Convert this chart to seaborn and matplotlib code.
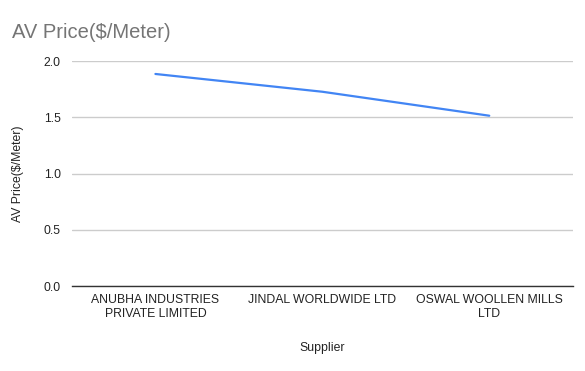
import matplotlib
matplotlib.use("Agg")
import matplotlib.pyplot as plt
import seaborn as sns
import pandas as pd

suppliers = ["ANUBHA INDUSTRIES\nPRIVATE LIMITED", "JINDAL WORLDWIDE LTD", "OSWAL WOOLLEN MILLS\nLTD"]
av_price = [1.885, 1.727, 1.514]
yticks = [0.0, 0.5, 1.0, 1.5, 2.0]

sns.set_theme(style="white")
plt.rcParams['font.family'] = ['Liberation Sans', 'DejaVu Sans']

df = pd.DataFrame({"Supplier": suppliers, "AV Price($/Meter)": av_price})

fig = plt.figure(figsize=(5.85, 3.71), dpi=100)
ax = fig.add_axes([0.123, 0.229, 0.856, 0.6065])
sns.lineplot(data=df, x="Supplier", y="AV Price($/Meter)", ax=ax, color="#4285F4", linewidth=1.6, sort=False)

ax.set_xlim(-0.5, 2.5)
ax.set_ylim(0, 2.0)
ax.set_yticks(yticks)
ax.set_yticklabels([f"{v:.1f}" for v in yticks])
ax.grid(axis="y", color="#cccccc", linewidth=1)
ax.grid(axis="x", visible=False)
ax.set_axisbelow(True)
for s in ["top", "right", "left"]:
    ax.spines[s].set_visible(False)
ax.spines["bottom"].set_color("#333333")
ax.spines["bottom"].set_linewidth(1)
ax.tick_params(axis="both", length=0, labelsize=8.8, colors="#222222")
ax.tick_params(axis="y", pad=8)
ax.tick_params(axis="x", pad=6)
ax.set_xlabel("Supplier", fontsize=8.8, color="#222222", labelpad=16)
ax.set_ylabel("AV Price($/Meter)", fontsize=8.8, color="#222222", labelpad=14)

fig.text(12/585, 1 - 32/371, "AV Price($/Meter)", fontsize=14.5, color="#757575", ha="left", va="center")

fig.savefig("out.png", dpi=100, facecolor="white")
